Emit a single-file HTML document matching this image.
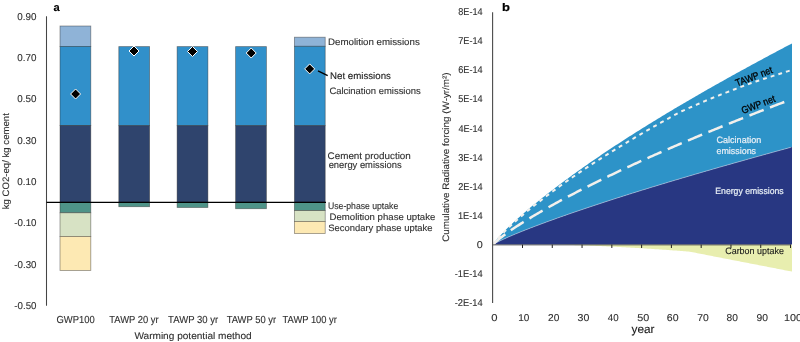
<!DOCTYPE html>
<html><head><meta charset="utf-8"><style>
html,body{margin:0;padding:0;background:#fff;overflow:hidden;}
svg{display:block;font-family:"Liberation Sans", sans-serif;will-change:transform;}
text{text-rendering:geometricPrecision;stroke:currentColor;}
</style></head><body>
<svg width="800" height="342" viewBox="0 0 800 342">
<line x1="46.5" y1="16.2" x2="46.5" y2="305.8" stroke="#454545" stroke-width="1.05"/>
<rect x="60.00" y="26.00" width="30.8" height="20.40" fill="#8FB3D7" stroke="#2a2a2a" stroke-opacity="0.5" stroke-width="0.8"/>
<rect x="60.00" y="46.40" width="30.8" height="79.20" fill="#3190CA" stroke="#2a2a2a" stroke-opacity="0.5" stroke-width="0.8"/>
<rect x="60.00" y="125.60" width="30.8" height="76.70" fill="#2F446D" stroke="#2a2a2a" stroke-opacity="0.5" stroke-width="0.8"/>
<rect x="60.00" y="202.30" width="30.8" height="10.50" fill="#4E9388" stroke="#2a2a2a" stroke-opacity="0.5" stroke-width="0.8"/>
<rect x="60.00" y="212.80" width="30.8" height="23.60" fill="#D7E2C4" stroke="#2a2a2a" stroke-opacity="0.5" stroke-width="0.8"/>
<rect x="60.00" y="236.40" width="30.8" height="34.10" fill="#FDE9B3" stroke="#2a2a2a" stroke-opacity="0.5" stroke-width="0.8"/>
<rect x="118.80" y="46.60" width="30.8" height="79.10" fill="#3190CA" stroke="#2a2a2a" stroke-opacity="0.5" stroke-width="0.8"/>
<rect x="118.80" y="125.70" width="30.8" height="76.60" fill="#2F446D" stroke="#2a2a2a" stroke-opacity="0.5" stroke-width="0.8"/>
<rect x="118.80" y="202.30" width="30.8" height="4.40" fill="#4E9388" stroke="#2a2a2a" stroke-opacity="0.5" stroke-width="0.8"/>
<rect x="177.10" y="46.60" width="30.8" height="79.10" fill="#3190CA" stroke="#2a2a2a" stroke-opacity="0.5" stroke-width="0.8"/>
<rect x="177.10" y="125.70" width="30.8" height="76.60" fill="#2F446D" stroke="#2a2a2a" stroke-opacity="0.5" stroke-width="0.8"/>
<rect x="177.10" y="202.30" width="30.8" height="5.20" fill="#4E9388" stroke="#2a2a2a" stroke-opacity="0.5" stroke-width="0.8"/>
<rect x="235.60" y="46.60" width="30.8" height="79.10" fill="#3190CA" stroke="#2a2a2a" stroke-opacity="0.5" stroke-width="0.8"/>
<rect x="235.60" y="125.70" width="30.8" height="76.60" fill="#2F446D" stroke="#2a2a2a" stroke-opacity="0.5" stroke-width="0.8"/>
<rect x="235.60" y="202.30" width="30.8" height="6.40" fill="#4E9388" stroke="#2a2a2a" stroke-opacity="0.5" stroke-width="0.8"/>
<rect x="294.40" y="37.20" width="30.8" height="9.10" fill="#8FB3D7" stroke="#2a2a2a" stroke-opacity="0.5" stroke-width="0.8"/>
<rect x="294.40" y="46.30" width="30.8" height="79.40" fill="#3190CA" stroke="#2a2a2a" stroke-opacity="0.5" stroke-width="0.8"/>
<rect x="294.40" y="125.70" width="30.8" height="76.60" fill="#2F446D" stroke="#2a2a2a" stroke-opacity="0.5" stroke-width="0.8"/>
<rect x="294.40" y="202.30" width="30.8" height="8.30" fill="#4E9388" stroke="#2a2a2a" stroke-opacity="0.5" stroke-width="0.8"/>
<rect x="294.40" y="210.60" width="30.8" height="10.80" fill="#D7E2C4" stroke="#2a2a2a" stroke-opacity="0.5" stroke-width="0.8"/>
<rect x="294.40" y="221.40" width="30.8" height="12.20" fill="#FDE9B3" stroke="#2a2a2a" stroke-opacity="0.5" stroke-width="0.8"/>
<line x1="46.5" y1="202.4" x2="326" y2="202.4" stroke="#000" stroke-width="1.1"/>
<path d="M75.6,89.0 L80.6,94.0 L75.6,99.0 L70.6,94.0 Z" fill="#000" stroke="#fff" stroke-width="1.0"/>
<path d="M134.0,46.0 L139.0,51.0 L134.0,56.0 L129.0,51.0 Z" fill="#000" stroke="#fff" stroke-width="1.0"/>
<path d="M192.5,46.5 L197.5,51.5 L192.5,56.5 L187.5,51.5 Z" fill="#000" stroke="#fff" stroke-width="1.0"/>
<path d="M251.2,48.0 L256.2,53.0 L251.2,58.0 L246.2,53.0 Z" fill="#000" stroke="#fff" stroke-width="1.0"/>
<path d="M309.7,63.900000000000006 L314.7,68.9 L309.7,73.9 L304.7,68.9 Z" fill="#000" stroke="#fff" stroke-width="1.0"/>
<line x1="318.0" y1="70.8" x2="327.7" y2="75.6" stroke="#000" stroke-width="1.4"/>
<path d="M492.72,244.60 L494.22,244.60 L495.73,244.60 L497.23,244.60 L498.74,244.60 L500.24,244.60 L501.74,244.60 L503.25,244.60 L504.75,244.60 L506.26,244.60 L507.76,244.60 L509.26,244.60 L510.77,244.60 L512.27,244.60 L513.78,244.60 L515.28,244.60 L516.78,244.60 L518.29,244.60 L519.79,244.60 L521.30,244.60 L522.80,244.60 L524.30,244.60 L525.81,244.60 L527.31,244.60 L528.82,244.60 L530.32,244.60 L531.83,244.60 L533.33,244.60 L534.83,244.60 L536.34,244.60 L537.84,244.60 L539.35,244.60 L540.85,244.60 L542.35,244.60 L543.86,244.60 L545.36,244.60 L546.87,244.60 L548.37,244.61 L549.87,244.62 L551.38,244.63 L552.88,244.65 L554.39,244.67 L555.89,244.69 L557.39,244.72 L558.90,244.74 L560.40,244.77 L561.91,244.80 L563.41,244.83 L564.91,244.87 L566.42,244.90 L567.92,244.94 L569.43,244.98 L570.93,245.02 L572.43,245.06 L573.94,245.10 L575.44,245.15 L576.95,245.19 L578.45,245.24 L579.95,245.29 L581.46,245.34 L582.96,245.39 L584.47,245.45 L585.97,245.50 L587.47,245.55 L588.98,245.61 L590.48,245.67 L591.99,245.73 L593.49,245.79 L594.99,245.85 L596.50,245.91 L598.00,245.97 L599.51,246.04 L601.01,246.10 L602.51,246.17 L604.02,246.24 L605.52,246.31 L607.03,246.38 L608.53,246.45 L610.04,246.52 L611.54,246.59 L613.04,246.67 L614.55,246.74 L616.05,246.82 L617.56,246.90 L619.06,246.97 L620.56,247.05 L622.07,247.13 L623.57,247.21 L625.08,247.30 L626.58,247.38 L628.08,247.46 L629.59,247.55 L631.09,247.63 L632.60,247.72 L634.10,247.81 L635.60,247.90 L637.11,247.99 L638.61,248.08 L640.12,248.17 L641.62,248.26 L643.12,248.35 L644.63,248.45 L646.13,248.54 L647.64,248.64 L649.14,248.73 L650.64,248.83 L652.15,248.93 L653.65,249.03 L655.16,249.13 L656.66,249.23 L658.16,249.33 L659.67,249.43 L661.17,249.53 L662.68,249.64 L664.18,249.74 L665.68,249.85 L667.19,249.95 L668.69,250.06 L670.20,250.17 L671.70,250.28 L673.20,250.38 L674.71,250.49 L676.21,250.61 L677.72,250.72 L679.22,250.83 L680.73,250.94 L682.23,251.06 L683.73,251.17 L685.24,251.29 L686.74,251.40 L688.25,251.52 L689.75,251.69 L691.25,251.99 L692.76,252.28 L694.26,252.57 L695.77,252.86 L697.27,253.16 L698.77,253.45 L700.28,253.74 L701.78,254.03 L703.29,254.33 L704.79,254.62 L706.29,254.91 L707.80,255.21 L709.30,255.50 L710.81,255.79 L712.31,256.08 L713.81,256.38 L715.32,256.67 L716.82,256.96 L718.33,257.25 L719.83,257.55 L721.33,257.84 L722.84,258.13 L724.34,258.42 L725.85,258.72 L727.35,259.01 L728.85,259.30 L730.36,259.59 L731.86,259.89 L733.37,260.18 L734.87,260.47 L736.37,260.77 L737.88,261.06 L739.38,261.35 L740.89,261.64 L742.39,261.94 L743.89,262.23 L745.40,262.52 L746.90,262.81 L748.41,263.11 L749.91,263.40 L751.41,263.69 L752.92,263.98 L754.42,264.28 L755.93,264.57 L757.43,264.86 L758.94,265.15 L760.44,265.45 L761.94,265.74 L763.45,266.03 L764.95,266.33 L766.46,266.62 L767.96,266.91 L769.46,267.20 L770.97,267.50 L772.47,267.79 L773.98,268.08 L775.48,268.37 L776.98,268.67 L778.49,268.96 L779.99,269.25 L781.50,269.54 L783.00,269.84 L784.50,270.13 L786.01,270.42 L787.51,270.71 L789.02,271.01 L790.52,271.30 L792.00,271.59 L792.00,244.60 L790.52,244.60 L789.02,244.60 L787.51,244.60 L786.01,244.60 L784.50,244.60 L783.00,244.60 L781.50,244.60 L779.99,244.60 L778.49,244.60 L776.98,244.60 L775.48,244.60 L773.98,244.60 L772.47,244.60 L770.97,244.60 L769.46,244.60 L767.96,244.60 L766.46,244.60 L764.95,244.60 L763.45,244.60 L761.94,244.60 L760.44,244.60 L758.94,244.60 L757.43,244.60 L755.93,244.60 L754.42,244.60 L752.92,244.60 L751.41,244.60 L749.91,244.60 L748.41,244.60 L746.90,244.60 L745.40,244.60 L743.89,244.60 L742.39,244.60 L740.89,244.60 L739.38,244.60 L737.88,244.60 L736.37,244.60 L734.87,244.60 L733.37,244.60 L731.86,244.60 L730.36,244.60 L728.85,244.60 L727.35,244.60 L725.85,244.60 L724.34,244.60 L722.84,244.60 L721.33,244.60 L719.83,244.60 L718.33,244.60 L716.82,244.60 L715.32,244.60 L713.81,244.60 L712.31,244.60 L710.81,244.60 L709.30,244.60 L707.80,244.60 L706.29,244.60 L704.79,244.60 L703.29,244.60 L701.78,244.60 L700.28,244.60 L698.77,244.60 L697.27,244.60 L695.77,244.60 L694.26,244.60 L692.76,244.60 L691.25,244.60 L689.75,244.60 L688.25,244.60 L686.74,244.60 L685.24,244.60 L683.73,244.60 L682.23,244.60 L680.73,244.60 L679.22,244.60 L677.72,244.60 L676.21,244.60 L674.71,244.60 L673.20,244.60 L671.70,244.60 L670.20,244.60 L668.69,244.60 L667.19,244.60 L665.68,244.60 L664.18,244.60 L662.68,244.60 L661.17,244.60 L659.67,244.60 L658.16,244.60 L656.66,244.60 L655.16,244.60 L653.65,244.60 L652.15,244.60 L650.64,244.60 L649.14,244.60 L647.64,244.60 L646.13,244.60 L644.63,244.60 L643.12,244.60 L641.62,244.60 L640.12,244.60 L638.61,244.60 L637.11,244.60 L635.60,244.60 L634.10,244.60 L632.60,244.60 L631.09,244.60 L629.59,244.60 L628.08,244.60 L626.58,244.60 L625.08,244.60 L623.57,244.60 L622.07,244.60 L620.56,244.60 L619.06,244.60 L617.56,244.60 L616.05,244.60 L614.55,244.60 L613.04,244.60 L611.54,244.60 L610.04,244.60 L608.53,244.60 L607.03,244.60 L605.52,244.60 L604.02,244.60 L602.51,244.60 L601.01,244.60 L599.51,244.60 L598.00,244.60 L596.50,244.60 L594.99,244.60 L593.49,244.60 L591.99,244.60 L590.48,244.60 L588.98,244.60 L587.47,244.60 L585.97,244.60 L584.47,244.60 L582.96,244.60 L581.46,244.60 L579.95,244.60 L578.45,244.60 L576.95,244.60 L575.44,244.60 L573.94,244.60 L572.43,244.60 L570.93,244.60 L569.43,244.60 L567.92,244.60 L566.42,244.60 L564.91,244.60 L563.41,244.60 L561.91,244.60 L560.40,244.60 L558.90,244.60 L557.39,244.60 L555.89,244.60 L554.39,244.60 L552.88,244.60 L551.38,244.60 L549.87,244.60 L548.37,244.60 L546.87,244.60 L545.36,244.60 L543.86,244.60 L542.35,244.60 L540.85,244.60 L539.35,244.60 L537.84,244.60 L536.34,244.60 L534.83,244.60 L533.33,244.60 L531.83,244.60 L530.32,244.60 L528.82,244.60 L527.31,244.60 L525.81,244.60 L524.30,244.60 L522.80,244.60 L521.30,244.60 L519.79,244.60 L518.29,244.60 L516.78,244.60 L515.28,244.60 L513.78,244.60 L512.27,244.60 L510.77,244.60 L509.26,244.60 L507.76,244.60 L506.26,244.60 L504.75,244.60 L503.25,244.60 L501.74,244.60 L500.24,244.60 L498.74,244.60 L497.23,244.60 L495.73,244.60 L494.22,244.60 L492.72,244.60 Z" fill="#E8EEAF"/>
<path d="M492.72,244.60 L494.22,242.70 L495.73,240.87 L497.23,239.09 L498.74,237.36 L500.24,235.68 L501.74,234.05 L503.25,232.45 L504.75,230.89 L506.26,229.36 L507.76,227.85 L509.26,226.38 L510.77,224.93 L512.27,223.50 L513.78,222.09 L515.28,220.70 L516.78,219.33 L518.29,217.97 L519.79,216.63 L521.30,215.31 L522.80,213.99 L524.30,212.69 L525.81,211.40 L527.31,210.12 L528.82,208.85 L530.32,207.59 L531.83,206.34 L533.33,205.10 L534.83,203.87 L536.34,202.65 L537.84,201.43 L539.35,200.22 L540.85,199.02 L542.35,197.82 L543.86,196.63 L545.36,195.45 L546.87,194.27 L548.37,193.10 L549.87,191.94 L551.38,190.78 L552.88,189.63 L554.39,188.48 L555.89,187.34 L557.39,186.20 L558.90,185.07 L560.40,183.94 L561.91,182.82 L563.41,181.70 L564.91,180.59 L566.42,179.48 L567.92,178.38 L569.43,177.28 L570.93,176.18 L572.43,175.09 L573.94,174.01 L575.44,172.92 L576.95,171.85 L578.45,170.77 L579.95,169.70 L581.46,168.64 L582.96,167.58 L584.47,166.52 L585.97,165.46 L587.47,164.41 L588.98,163.37 L590.48,162.32 L591.99,161.28 L593.49,160.25 L594.99,159.22 L596.50,158.19 L598.00,157.16 L599.51,156.14 L601.01,155.12 L602.51,154.11 L604.02,153.10 L605.52,152.09 L607.03,151.08 L608.53,150.08 L610.04,149.08 L611.54,148.08 L613.04,147.09 L614.55,146.10 L616.05,145.11 L617.56,144.13 L619.06,143.15 L620.56,142.17 L622.07,141.19 L623.57,140.22 L625.08,139.25 L626.58,138.28 L628.08,137.32 L629.59,136.36 L631.09,135.40 L632.60,134.44 L634.10,133.49 L635.60,132.53 L637.11,131.58 L638.61,130.64 L640.12,129.69 L641.62,128.75 L643.12,127.81 L644.63,126.88 L646.13,125.94 L647.64,125.01 L649.14,124.08 L650.64,123.15 L652.15,122.23 L653.65,121.30 L655.16,120.38 L656.66,119.46 L658.16,118.55 L659.67,117.63 L661.17,116.72 L662.68,115.81 L664.18,114.90 L665.68,113.99 L667.19,113.09 L668.69,112.19 L670.20,111.29 L671.70,110.39 L673.20,109.49 L674.71,108.60 L676.21,107.71 L677.72,106.82 L679.22,105.93 L680.73,105.04 L682.23,104.15 L683.73,103.27 L685.24,102.39 L686.74,101.51 L688.25,100.63 L689.75,99.76 L691.25,98.88 L692.76,98.01 L694.26,97.14 L695.77,96.27 L697.27,95.40 L698.77,94.53 L700.28,93.67 L701.78,92.80 L703.29,91.94 L704.79,91.08 L706.29,90.22 L707.80,89.37 L709.30,88.51 L710.81,87.66 L712.31,86.81 L713.81,85.95 L715.32,85.10 L716.82,84.26 L718.33,83.41 L719.83,82.56 L721.33,81.72 L722.84,80.88 L724.34,80.04 L725.85,79.20 L727.35,78.36 L728.85,77.52 L730.36,76.68 L731.86,75.85 L733.37,75.02 L734.87,74.18 L736.37,73.35 L737.88,72.52 L739.38,71.70 L740.89,70.87 L742.39,70.04 L743.89,69.22 L745.40,68.39 L746.90,67.57 L748.41,66.75 L749.91,65.93 L751.41,65.11 L752.92,64.30 L754.42,63.48 L755.93,62.66 L757.43,61.85 L758.94,61.04 L760.44,60.22 L761.94,59.41 L763.45,58.60 L764.95,57.79 L766.46,56.99 L767.96,56.18 L769.46,55.37 L770.97,54.57 L772.47,53.77 L773.98,52.96 L775.48,52.16 L776.98,51.36 L778.49,50.56 L779.99,49.76 L781.50,48.97 L783.00,48.17 L784.50,47.37 L786.01,46.58 L787.51,45.78 L789.02,44.99 L790.52,44.20 L792.00,43.42 L792.00,147.00 L790.52,147.40 L789.02,147.81 L787.51,148.22 L786.01,148.63 L784.50,149.05 L783.00,149.46 L781.50,149.87 L779.99,150.28 L778.49,150.70 L776.98,151.11 L775.48,151.52 L773.98,151.94 L772.47,152.35 L770.97,152.77 L769.46,153.18 L767.96,153.60 L766.46,154.02 L764.95,154.43 L763.45,154.85 L761.94,155.27 L760.44,155.68 L758.94,156.10 L757.43,156.52 L755.93,156.94 L754.42,157.36 L752.92,157.78 L751.41,158.20 L749.91,158.62 L748.41,159.04 L746.90,159.46 L745.40,159.88 L743.89,160.31 L742.39,160.73 L740.89,161.15 L739.38,161.57 L737.88,162.00 L736.37,162.42 L734.87,162.85 L733.37,163.27 L731.86,163.70 L730.36,164.13 L728.85,164.55 L727.35,164.98 L725.85,165.41 L724.34,165.84 L722.84,166.26 L721.33,166.69 L719.83,167.12 L718.33,167.55 L716.82,167.98 L715.32,168.42 L713.81,168.85 L712.31,169.28 L710.81,169.71 L709.30,170.15 L707.80,170.58 L706.29,171.02 L704.79,171.45 L703.29,171.89 L701.78,172.32 L700.28,172.76 L698.77,173.20 L697.27,173.63 L695.77,174.07 L694.26,174.51 L692.76,174.95 L691.25,175.39 L689.75,175.83 L688.25,176.27 L686.74,176.72 L685.24,177.16 L683.73,177.60 L682.23,178.05 L680.73,178.49 L679.22,178.94 L677.72,179.38 L676.21,179.83 L674.71,180.28 L673.20,180.72 L671.70,181.17 L670.20,181.62 L668.69,182.07 L667.19,182.52 L665.68,182.98 L664.18,183.43 L662.68,183.88 L661.17,184.34 L659.67,184.79 L658.16,185.25 L656.66,185.70 L655.16,186.16 L653.65,186.62 L652.15,187.07 L650.64,187.53 L649.14,187.99 L647.64,188.46 L646.13,188.92 L644.63,189.38 L643.12,189.84 L641.62,190.31 L640.12,190.77 L638.61,191.24 L637.11,191.71 L635.60,192.17 L634.10,192.64 L632.60,193.11 L631.09,193.58 L629.59,194.06 L628.08,194.53 L626.58,195.00 L625.08,195.48 L623.57,195.95 L622.07,196.43 L620.56,196.91 L619.06,197.39 L617.56,197.86 L616.05,198.35 L614.55,198.83 L613.04,199.31 L611.54,199.79 L610.04,200.28 L608.53,200.77 L607.03,201.25 L605.52,201.74 L604.02,202.23 L602.51,202.72 L601.01,203.21 L599.51,203.71 L598.00,204.20 L596.50,204.70 L594.99,205.19 L593.49,205.69 L591.99,206.19 L590.48,206.69 L588.98,207.20 L587.47,207.70 L585.97,208.20 L584.47,208.71 L582.96,209.22 L581.46,209.73 L579.95,210.24 L578.45,210.75 L576.95,211.26 L575.44,211.78 L573.94,212.29 L572.43,212.81 L570.93,213.33 L569.43,213.85 L567.92,214.37 L566.42,214.90 L564.91,215.42 L563.41,215.95 L561.91,216.48 L560.40,217.01 L558.90,217.54 L557.39,218.08 L555.89,218.61 L554.39,219.15 L552.88,219.69 L551.38,220.24 L549.87,220.78 L548.37,221.33 L546.87,221.87 L545.36,222.43 L543.86,222.98 L542.35,223.53 L540.85,224.09 L539.35,224.65 L537.84,225.21 L536.34,225.78 L534.83,226.35 L533.33,226.92 L531.83,227.49 L530.32,228.07 L528.82,228.65 L527.31,229.24 L525.81,229.82 L524.30,230.41 L522.80,231.01 L521.30,231.61 L519.79,232.22 L518.29,232.83 L516.78,233.44 L515.28,234.07 L513.78,234.69 L512.27,235.33 L510.77,235.97 L509.26,236.62 L507.76,237.28 L506.26,237.95 L504.75,238.63 L503.25,239.32 L501.74,240.02 L500.24,240.74 L498.74,241.48 L497.23,242.23 L495.73,243.00 L494.22,243.79 L492.72,244.60 Z" fill="#2D93C8"/>
<path d="M492.72,244.60 L494.22,243.79 L495.73,243.00 L497.23,242.23 L498.74,241.48 L500.24,240.74 L501.74,240.02 L503.25,239.32 L504.75,238.63 L506.26,237.95 L507.76,237.28 L509.26,236.62 L510.77,235.97 L512.27,235.33 L513.78,234.69 L515.28,234.07 L516.78,233.44 L518.29,232.83 L519.79,232.22 L521.30,231.61 L522.80,231.01 L524.30,230.41 L525.81,229.82 L527.31,229.24 L528.82,228.65 L530.32,228.07 L531.83,227.49 L533.33,226.92 L534.83,226.35 L536.34,225.78 L537.84,225.21 L539.35,224.65 L540.85,224.09 L542.35,223.53 L543.86,222.98 L545.36,222.43 L546.87,221.87 L548.37,221.33 L549.87,220.78 L551.38,220.24 L552.88,219.69 L554.39,219.15 L555.89,218.61 L557.39,218.08 L558.90,217.54 L560.40,217.01 L561.91,216.48 L563.41,215.95 L564.91,215.42 L566.42,214.90 L567.92,214.37 L569.43,213.85 L570.93,213.33 L572.43,212.81 L573.94,212.29 L575.44,211.78 L576.95,211.26 L578.45,210.75 L579.95,210.24 L581.46,209.73 L582.96,209.22 L584.47,208.71 L585.97,208.20 L587.47,207.70 L588.98,207.20 L590.48,206.69 L591.99,206.19 L593.49,205.69 L594.99,205.19 L596.50,204.70 L598.00,204.20 L599.51,203.71 L601.01,203.21 L602.51,202.72 L604.02,202.23 L605.52,201.74 L607.03,201.25 L608.53,200.77 L610.04,200.28 L611.54,199.79 L613.04,199.31 L614.55,198.83 L616.05,198.35 L617.56,197.86 L619.06,197.39 L620.56,196.91 L622.07,196.43 L623.57,195.95 L625.08,195.48 L626.58,195.00 L628.08,194.53 L629.59,194.06 L631.09,193.58 L632.60,193.11 L634.10,192.64 L635.60,192.17 L637.11,191.71 L638.61,191.24 L640.12,190.77 L641.62,190.31 L643.12,189.84 L644.63,189.38 L646.13,188.92 L647.64,188.46 L649.14,187.99 L650.64,187.53 L652.15,187.07 L653.65,186.62 L655.16,186.16 L656.66,185.70 L658.16,185.25 L659.67,184.79 L661.17,184.34 L662.68,183.88 L664.18,183.43 L665.68,182.98 L667.19,182.52 L668.69,182.07 L670.20,181.62 L671.70,181.17 L673.20,180.72 L674.71,180.28 L676.21,179.83 L677.72,179.38 L679.22,178.94 L680.73,178.49 L682.23,178.05 L683.73,177.60 L685.24,177.16 L686.74,176.72 L688.25,176.27 L689.75,175.83 L691.25,175.39 L692.76,174.95 L694.26,174.51 L695.77,174.07 L697.27,173.63 L698.77,173.20 L700.28,172.76 L701.78,172.32 L703.29,171.89 L704.79,171.45 L706.29,171.02 L707.80,170.58 L709.30,170.15 L710.81,169.71 L712.31,169.28 L713.81,168.85 L715.32,168.42 L716.82,167.98 L718.33,167.55 L719.83,167.12 L721.33,166.69 L722.84,166.26 L724.34,165.84 L725.85,165.41 L727.35,164.98 L728.85,164.55 L730.36,164.13 L731.86,163.70 L733.37,163.27 L734.87,162.85 L736.37,162.42 L737.88,162.00 L739.38,161.57 L740.89,161.15 L742.39,160.73 L743.89,160.31 L745.40,159.88 L746.90,159.46 L748.41,159.04 L749.91,158.62 L751.41,158.20 L752.92,157.78 L754.42,157.36 L755.93,156.94 L757.43,156.52 L758.94,156.10 L760.44,155.68 L761.94,155.27 L763.45,154.85 L764.95,154.43 L766.46,154.02 L767.96,153.60 L769.46,153.18 L770.97,152.77 L772.47,152.35 L773.98,151.94 L775.48,151.52 L776.98,151.11 L778.49,150.70 L779.99,150.28 L781.50,149.87 L783.00,149.46 L784.50,149.05 L786.01,148.63 L787.51,148.22 L789.02,147.81 L790.52,147.40 L792.00,147.00 L792.00,244.60 L790.52,244.60 L789.02,244.60 L787.51,244.60 L786.01,244.60 L784.50,244.60 L783.00,244.60 L781.50,244.60 L779.99,244.60 L778.49,244.60 L776.98,244.60 L775.48,244.60 L773.98,244.60 L772.47,244.60 L770.97,244.60 L769.46,244.60 L767.96,244.60 L766.46,244.60 L764.95,244.60 L763.45,244.60 L761.94,244.60 L760.44,244.60 L758.94,244.60 L757.43,244.60 L755.93,244.60 L754.42,244.60 L752.92,244.60 L751.41,244.60 L749.91,244.60 L748.41,244.60 L746.90,244.60 L745.40,244.60 L743.89,244.60 L742.39,244.60 L740.89,244.60 L739.38,244.60 L737.88,244.60 L736.37,244.60 L734.87,244.60 L733.37,244.60 L731.86,244.60 L730.36,244.60 L728.85,244.60 L727.35,244.60 L725.85,244.60 L724.34,244.60 L722.84,244.60 L721.33,244.60 L719.83,244.60 L718.33,244.60 L716.82,244.60 L715.32,244.60 L713.81,244.60 L712.31,244.60 L710.81,244.60 L709.30,244.60 L707.80,244.60 L706.29,244.60 L704.79,244.60 L703.29,244.60 L701.78,244.60 L700.28,244.60 L698.77,244.60 L697.27,244.60 L695.77,244.60 L694.26,244.60 L692.76,244.60 L691.25,244.60 L689.75,244.60 L688.25,244.60 L686.74,244.60 L685.24,244.60 L683.73,244.60 L682.23,244.60 L680.73,244.60 L679.22,244.60 L677.72,244.60 L676.21,244.60 L674.71,244.60 L673.20,244.60 L671.70,244.60 L670.20,244.60 L668.69,244.60 L667.19,244.60 L665.68,244.60 L664.18,244.60 L662.68,244.60 L661.17,244.60 L659.67,244.60 L658.16,244.60 L656.66,244.60 L655.16,244.60 L653.65,244.60 L652.15,244.60 L650.64,244.60 L649.14,244.60 L647.64,244.60 L646.13,244.60 L644.63,244.60 L643.12,244.60 L641.62,244.60 L640.12,244.60 L638.61,244.60 L637.11,244.60 L635.60,244.60 L634.10,244.60 L632.60,244.60 L631.09,244.60 L629.59,244.60 L628.08,244.60 L626.58,244.60 L625.08,244.60 L623.57,244.60 L622.07,244.60 L620.56,244.60 L619.06,244.60 L617.56,244.60 L616.05,244.60 L614.55,244.60 L613.04,244.60 L611.54,244.60 L610.04,244.60 L608.53,244.60 L607.03,244.60 L605.52,244.60 L604.02,244.60 L602.51,244.60 L601.01,244.60 L599.51,244.60 L598.00,244.60 L596.50,244.60 L594.99,244.60 L593.49,244.60 L591.99,244.60 L590.48,244.60 L588.98,244.60 L587.47,244.60 L585.97,244.60 L584.47,244.60 L582.96,244.60 L581.46,244.60 L579.95,244.60 L578.45,244.60 L576.95,244.60 L575.44,244.60 L573.94,244.60 L572.43,244.60 L570.93,244.60 L569.43,244.60 L567.92,244.60 L566.42,244.60 L564.91,244.60 L563.41,244.60 L561.91,244.60 L560.40,244.60 L558.90,244.60 L557.39,244.60 L555.89,244.60 L554.39,244.60 L552.88,244.60 L551.38,244.60 L549.87,244.60 L548.37,244.60 L546.87,244.60 L545.36,244.60 L543.86,244.60 L542.35,244.60 L540.85,244.60 L539.35,244.60 L537.84,244.60 L536.34,244.60 L534.83,244.60 L533.33,244.60 L531.83,244.60 L530.32,244.60 L528.82,244.60 L527.31,244.60 L525.81,244.60 L524.30,244.60 L522.80,244.60 L521.30,244.60 L519.79,244.60 L518.29,244.60 L516.78,244.60 L515.28,244.60 L513.78,244.60 L512.27,244.60 L510.77,244.60 L509.26,244.60 L507.76,244.60 L506.26,244.60 L504.75,244.60 L503.25,244.60 L501.74,244.60 L500.24,244.60 L498.74,244.60 L497.23,244.60 L495.73,244.60 L494.22,244.60 L492.72,244.60 Z" fill="#283782"/>
<path d="M492.72,244.60 L494.22,243.79 L495.73,243.00 L497.23,242.23 L498.74,241.48 L500.24,240.74 L501.74,240.02 L503.25,239.32 L504.75,238.63 L506.26,237.95 L507.76,237.28 L509.26,236.62 L510.77,235.97 L512.27,235.33 L513.78,234.69 L515.28,234.07 L516.78,233.44 L518.29,232.83 L519.79,232.22 L521.30,231.61 L522.80,231.01 L524.30,230.41 L525.81,229.82 L527.31,229.24 L528.82,228.65 L530.32,228.07 L531.83,227.49 L533.33,226.92 L534.83,226.35 L536.34,225.78 L537.84,225.21 L539.35,224.65 L540.85,224.09 L542.35,223.53 L543.86,222.98 L545.36,222.43 L546.87,221.87 L548.37,221.33 L549.87,220.78 L551.38,220.24 L552.88,219.69 L554.39,219.15 L555.89,218.61 L557.39,218.08 L558.90,217.54 L560.40,217.01 L561.91,216.48 L563.41,215.95 L564.91,215.42 L566.42,214.90 L567.92,214.37 L569.43,213.85 L570.93,213.33 L572.43,212.81 L573.94,212.29 L575.44,211.78 L576.95,211.26 L578.45,210.75 L579.95,210.24 L581.46,209.73 L582.96,209.22 L584.47,208.71 L585.97,208.20 L587.47,207.70 L588.98,207.20 L590.48,206.69 L591.99,206.19 L593.49,205.69 L594.99,205.19 L596.50,204.70 L598.00,204.20 L599.51,203.71 L601.01,203.21 L602.51,202.72 L604.02,202.23 L605.52,201.74 L607.03,201.25 L608.53,200.77 L610.04,200.28 L611.54,199.79 L613.04,199.31 L614.55,198.83 L616.05,198.35 L617.56,197.86 L619.06,197.39 L620.56,196.91 L622.07,196.43 L623.57,195.95 L625.08,195.48 L626.58,195.00 L628.08,194.53 L629.59,194.06 L631.09,193.58 L632.60,193.11 L634.10,192.64 L635.60,192.17 L637.11,191.71 L638.61,191.24 L640.12,190.77 L641.62,190.31 L643.12,189.84 L644.63,189.38 L646.13,188.92 L647.64,188.46 L649.14,187.99 L650.64,187.53 L652.15,187.07 L653.65,186.62 L655.16,186.16 L656.66,185.70 L658.16,185.25 L659.67,184.79 L661.17,184.34 L662.68,183.88 L664.18,183.43 L665.68,182.98 L667.19,182.52 L668.69,182.07 L670.20,181.62 L671.70,181.17 L673.20,180.72 L674.71,180.28 L676.21,179.83 L677.72,179.38 L679.22,178.94 L680.73,178.49 L682.23,178.05 L683.73,177.60 L685.24,177.16 L686.74,176.72 L688.25,176.27 L689.75,175.83 L691.25,175.39 L692.76,174.95 L694.26,174.51 L695.77,174.07 L697.27,173.63 L698.77,173.20 L700.28,172.76 L701.78,172.32 L703.29,171.89 L704.79,171.45 L706.29,171.02 L707.80,170.58 L709.30,170.15 L710.81,169.71 L712.31,169.28 L713.81,168.85 L715.32,168.42 L716.82,167.98 L718.33,167.55 L719.83,167.12 L721.33,166.69 L722.84,166.26 L724.34,165.84 L725.85,165.41 L727.35,164.98 L728.85,164.55 L730.36,164.13 L731.86,163.70 L733.37,163.27 L734.87,162.85 L736.37,162.42 L737.88,162.00 L739.38,161.57 L740.89,161.15 L742.39,160.73 L743.89,160.31 L745.40,159.88 L746.90,159.46 L748.41,159.04 L749.91,158.62 L751.41,158.20 L752.92,157.78 L754.42,157.36 L755.93,156.94 L757.43,156.52 L758.94,156.10 L760.44,155.68 L761.94,155.27 L763.45,154.85 L764.95,154.43 L766.46,154.02 L767.96,153.60 L769.46,153.18 L770.97,152.77 L772.47,152.35 L773.98,151.94 L775.48,151.52 L776.98,151.11 L778.49,150.70 L779.99,150.28 L781.50,149.87 L783.00,149.46 L784.50,149.05 L786.01,148.63 L787.51,148.22 L789.02,147.81 L790.52,147.40" fill="none" stroke="#b8d4ea" stroke-width="0.6"/>
<path d="M492.72,244.60 L494.22,242.76 L495.73,240.99 L497.23,239.27 L498.74,237.60 L500.24,235.99 L501.74,234.41 L503.25,232.87 L504.75,231.37 L506.26,229.90 L507.76,228.46 L509.26,227.01 L510.77,225.59 L512.27,224.19 L513.78,222.81 L515.28,221.45 L516.78,220.10 L518.29,218.78 L519.79,217.47 L521.30,216.17 L522.80,214.88 L524.30,213.61 L525.81,212.35 L527.31,211.10 L528.82,209.86 L530.32,208.64 L531.83,207.43 L533.33,206.23 L534.83,205.04 L536.34,203.85 L537.84,202.67 L539.35,201.50 L540.85,200.34 L542.35,199.18 L543.86,198.03 L545.36,196.89 L546.87,195.75 L548.37,194.62 L549.87,193.49 L551.38,192.37 L552.88,191.26 L554.39,190.15 L555.89,189.05 L557.39,187.95 L558.90,186.85 L560.40,185.77 L561.91,184.68 L563.41,183.60 L564.91,182.53 L566.42,181.46 L567.92,180.40 L569.43,179.36 L570.93,178.32 L572.43,177.28 L573.94,176.25 L575.44,175.23 L576.95,174.20 L578.45,173.19 L579.95,172.17 L581.46,171.16 L582.96,170.15 L584.47,169.15 L585.97,168.15 L587.47,167.16 L588.98,166.17 L590.48,165.18 L591.99,164.19 L593.49,163.21 L594.99,162.24 L596.50,161.26 L598.00,160.29 L599.51,159.33 L601.01,158.37 L602.51,157.41 L604.02,156.46 L605.52,155.52 L607.03,154.58 L608.53,153.64 L610.04,152.70 L611.54,151.76 L613.04,150.83 L614.55,149.91 L616.05,148.98 L617.56,148.06 L619.06,147.14 L620.56,146.22 L622.07,145.31 L623.57,144.40 L625.08,143.49 L626.58,142.59 L628.08,141.69 L629.59,140.79 L631.09,139.89 L632.60,138.99 L634.10,138.10 L635.60,137.21 L637.11,136.33 L638.61,135.44 L640.12,134.56 L641.62,133.68 L643.12,132.80 L644.63,131.93 L646.13,131.06 L647.64,130.19 L649.14,129.32 L650.64,128.46 L652.15,127.60 L653.65,126.74 L655.16,125.88 L656.66,125.03 L658.16,124.18 L659.67,123.33 L661.17,122.48 L662.68,121.64 L664.18,120.80 L665.68,119.96 L667.19,119.12 L668.69,118.28 L670.20,117.45 L671.70,116.61 L673.20,115.78 L674.71,114.95 L676.21,114.13 L677.72,113.30 L679.22,112.48 L680.73,111.70 L682.23,111.02 L683.73,110.35 L685.24,109.68 L686.74,109.01 L688.25,108.35 L689.75,107.68 L691.25,107.02 L692.76,106.36 L694.26,105.70 L695.77,105.04 L697.27,104.39 L698.77,103.73 L700.28,103.08 L701.78,102.43 L703.29,101.78 L704.79,101.13 L706.29,100.49 L707.80,99.84 L709.30,99.20 L710.81,98.58 L712.31,97.98 L713.81,97.38 L715.32,96.79 L716.82,96.20 L718.33,95.61 L719.83,95.02 L721.33,94.43 L722.84,93.85 L724.34,93.26 L725.85,92.68 L727.35,92.09 L728.85,91.51 L730.36,90.93 L731.86,90.36 L733.37,89.78 L734.87,89.20 L736.37,88.63 L737.88,88.06 L739.38,87.48 L740.89,86.91 L742.39,86.34 L743.89,85.77 L745.40,85.21 L746.90,84.64 L748.41,84.08 L749.91,83.51 L751.41,83.01 L752.92,82.51 L754.42,82.01 L755.93,81.52 L757.43,81.02 L758.94,80.53 L760.44,80.04 L761.94,79.55 L763.45,79.05 L764.95,78.57 L766.46,78.08 L767.96,77.59 L769.46,77.10 L770.97,76.62 L772.47,76.13 L773.98,75.65 L775.48,75.17 L776.98,74.69 L778.49,74.21 L779.99,73.73 L781.50,73.25 L783.00,72.77 L784.50,72.30 L786.01,71.82 L787.51,71.35 L789.02,70.87 L790.52,70.40" fill="none" stroke="#F2F0EC" stroke-width="2.0" stroke-dasharray="3.9 4.1" stroke-dashoffset="0.1"/>
<path d="M492.72,244.60 L494.22,243.23 L495.73,241.90 L497.23,240.61 L498.74,239.36 L500.24,238.15 L501.74,236.96 L503.25,235.81 L504.75,234.68 L506.26,233.57 L507.76,232.48 L509.26,231.42 L510.77,230.37 L512.27,229.33 L513.78,228.31 L515.28,227.31 L516.78,226.31 L518.29,225.33 L519.79,224.36 L521.30,223.40 L522.80,222.45 L524.30,221.51 L525.81,220.58 L527.31,219.65 L528.82,218.74 L530.32,217.82 L531.83,216.92 L533.33,216.02 L534.83,215.13 L536.34,214.24 L537.84,213.36 L539.35,212.49 L540.85,211.62 L542.35,210.75 L543.86,209.89 L545.36,209.04 L546.87,208.19 L548.37,207.34 L549.87,206.50 L551.38,205.66 L552.88,204.82 L554.39,203.99 L555.89,203.17 L557.39,202.34 L558.90,201.52 L560.40,200.71 L561.91,199.90 L563.41,199.09 L564.91,198.28 L566.42,197.48 L567.92,196.68 L569.43,195.89 L570.93,195.10 L572.43,194.31 L573.94,193.52 L575.44,192.74 L576.95,191.96 L578.45,191.18 L579.95,190.41 L581.46,189.64 L582.96,188.87 L584.47,188.10 L585.97,187.34 L587.47,186.58 L588.98,185.82 L590.48,185.07 L591.99,184.32 L593.49,183.57 L594.99,182.82 L596.50,182.08 L598.00,181.33 L599.51,180.60 L601.01,179.86 L602.51,179.12 L604.02,178.39 L605.52,177.66 L607.03,176.93 L608.53,176.21 L610.04,175.49 L611.54,174.76 L613.04,174.05 L614.55,173.33 L616.05,172.62 L617.56,171.90 L619.06,171.19 L620.56,170.49 L622.07,169.78 L623.57,169.08 L625.08,168.37 L626.58,167.67 L628.08,166.98 L629.59,166.28 L631.09,165.59 L632.60,164.89 L634.10,164.20 L635.60,163.51 L637.11,162.83 L638.61,162.14 L640.12,161.46 L641.62,160.78 L643.12,160.10 L644.63,159.42 L646.13,158.74 L647.64,158.07 L649.14,157.40 L650.64,156.73 L652.15,156.06 L653.65,155.39 L655.16,154.72 L656.66,154.06 L658.16,153.39 L659.67,152.73 L661.17,152.07 L662.68,151.41 L664.18,150.76 L665.68,150.10 L667.19,149.45 L668.69,148.79 L670.20,148.14 L671.70,147.49 L673.20,146.84 L674.71,146.20 L676.21,145.55 L677.72,144.91 L679.22,144.26 L680.73,143.62 L682.23,142.98 L683.73,142.34 L685.24,141.70 L686.74,141.07 L688.25,140.43 L689.75,139.80 L691.25,139.16 L692.76,138.53 L694.26,137.90 L695.77,137.27 L697.27,136.65 L698.77,136.02 L700.28,135.39 L701.78,134.77 L703.29,134.14 L704.79,133.52 L706.29,132.90 L707.80,132.28 L709.30,131.66 L710.81,131.04 L712.31,130.43 L713.81,129.81 L715.32,129.20 L716.82,128.58 L718.33,127.97 L719.83,127.36 L721.33,126.75 L722.84,126.14 L724.34,125.53 L725.85,124.92 L727.35,124.31 L728.85,123.71 L730.36,123.10 L731.86,122.50 L733.37,121.90 L734.87,121.30 L736.37,120.69 L737.88,120.09 L739.38,119.49 L740.89,118.90 L742.39,118.30 L743.89,117.70 L745.40,117.11 L746.90,116.51 L748.41,115.92 L749.91,115.32 L751.41,114.73 L752.92,114.14 L754.42,113.55 L755.93,112.96 L757.43,112.37 L758.94,111.78 L760.44,111.19 L761.94,110.61 L763.45,110.02 L764.95,109.44 L766.46,108.85 L767.96,108.27 L769.46,107.69 L770.97,107.10 L772.47,106.52 L773.98,105.94 L775.48,105.36 L776.98,104.78 L778.49,104.20 L779.99,103.63 L781.50,103.05 L783.00,102.47 L784.50,101.90 L786.01,101.32 L787.51,100.75 L789.02,100.17 L790.52,99.60" fill="none" stroke="#F2F0EC" stroke-width="2.5" stroke-dasharray="15.3 6.8" stroke-dashoffset="21.1"/>
<line x1="492.6" y1="12.3" x2="492.6" y2="302.9" stroke="#4a4a4a" stroke-width="1.1"/>
<line x1="492.7" y1="244.9" x2="791" y2="244.9" stroke="#3a3a3a" stroke-width="0.8"/>
<line x1="522.50" y1="244.6" x2="522.50" y2="248" stroke="#222" stroke-width="1"/>
<line x1="552.28" y1="244.6" x2="552.28" y2="248" stroke="#222" stroke-width="1"/>
<line x1="582.06" y1="244.6" x2="582.06" y2="248" stroke="#222" stroke-width="1"/>
<line x1="611.84" y1="244.6" x2="611.84" y2="248" stroke="#222" stroke-width="1"/>
<line x1="641.62" y1="244.6" x2="641.62" y2="248" stroke="#222" stroke-width="1"/>
<line x1="671.40" y1="244.6" x2="671.40" y2="248" stroke="#222" stroke-width="1"/>
<line x1="701.18" y1="244.6" x2="701.18" y2="248" stroke="#222" stroke-width="1"/>
<line x1="730.96" y1="244.6" x2="730.96" y2="248" stroke="#222" stroke-width="1"/>
<line x1="760.74" y1="244.6" x2="760.74" y2="248" stroke="#222" stroke-width="1"/>
<line x1="790.52" y1="244.6" x2="790.52" y2="248" stroke="#222" stroke-width="1"/>
<text x="17.33" y="20.05" font-size="9.9" font-weight="normal" fill="#303030" color="#303030" stroke-width="0.12" textLength="19.13" lengthAdjust="spacingAndGlyphs">0.90</text>
<text x="17.33" y="60.85" font-size="9.9" font-weight="normal" fill="#303030" color="#303030" stroke-width="0.12" textLength="19.13" lengthAdjust="spacingAndGlyphs">0.70</text>
<text x="17.33" y="102.25" font-size="9.9" font-weight="normal" fill="#303030" color="#303030" stroke-width="0.12" textLength="19.13" lengthAdjust="spacingAndGlyphs">0.50</text>
<text x="17.33" y="143.65" font-size="9.9" font-weight="normal" fill="#303030" color="#303030" stroke-width="0.12" textLength="19.13" lengthAdjust="spacingAndGlyphs">0.30</text>
<text x="17.33" y="185.05" font-size="9.9" font-weight="normal" fill="#303030" color="#303030" stroke-width="0.12" textLength="19.13" lengthAdjust="spacingAndGlyphs">0.10</text>
<text x="14.33" y="226.45" font-size="9.9" font-weight="normal" fill="#303030" color="#303030" stroke-width="0.12" textLength="22.15" lengthAdjust="spacingAndGlyphs">-0.10</text>
<text x="14.33" y="267.85" font-size="9.9" font-weight="normal" fill="#303030" color="#303030" stroke-width="0.12" textLength="22.15" lengthAdjust="spacingAndGlyphs">-0.30</text>
<text x="14.33" y="309.25" font-size="9.9" font-weight="normal" fill="#303030" color="#303030" stroke-width="0.12" textLength="22.15" lengthAdjust="spacingAndGlyphs">-0.50</text>
<text x="53.55" y="11.35" font-size="11.0" font-weight="bold" fill="#000" color="#000" stroke-width="0.15" textLength="6.23" lengthAdjust="spacingAndGlyphs">a</text>
<text x="327.97" y="44.70" font-size="9.4" font-weight="normal" fill="#303030" color="#303030" stroke-width="0.12" textLength="91.77" lengthAdjust="spacingAndGlyphs">Demolition emissions</text>
<text x="330.14" y="78.80" font-size="9.6" font-weight="normal" fill="#222" color="#222" stroke-width="0.12" textLength="60.73" lengthAdjust="spacingAndGlyphs">Net emissions</text>
<text x="329.40" y="94.10" font-size="9.4" font-weight="normal" fill="#303030" color="#303030" stroke-width="0.12" textLength="91.30" lengthAdjust="spacingAndGlyphs">Calcination emissions</text>
<text x="327.63" y="159.30" font-size="9.5" font-weight="normal" fill="#303030" color="#303030" stroke-width="0.12" textLength="83.15" lengthAdjust="spacingAndGlyphs">Cement production</text>
<text x="328.63" y="168.40" font-size="9.5" font-weight="normal" fill="#303030" color="#303030" stroke-width="0.12" textLength="72.96" lengthAdjust="spacingAndGlyphs">energy emissions</text>
<text x="328.02" y="208.80" font-size="9.3" font-weight="normal" fill="#303030" color="#303030" stroke-width="0.12" textLength="70.20" lengthAdjust="spacingAndGlyphs">Use-phase uptake</text>
<text x="329.52" y="219.90" font-size="9.3" font-weight="normal" fill="#303030" color="#303030" stroke-width="0.12" textLength="105.83" lengthAdjust="spacingAndGlyphs">Demolition phase uptake</text>
<text x="328.22" y="230.60" font-size="9.3" font-weight="normal" fill="#303030" color="#303030" stroke-width="0.12" textLength="104.24" lengthAdjust="spacingAndGlyphs">Secondary phase uptake</text>
<text x="56.44" y="322.75" font-size="10.2" font-weight="normal" fill="#303030" color="#303030" stroke-width="0.12" textLength="38.23" lengthAdjust="spacingAndGlyphs">GWP100</text>
<text x="109.27" y="322.75" font-size="10.2" font-weight="normal" fill="#303030" color="#303030" stroke-width="0.12" textLength="49.42" lengthAdjust="spacingAndGlyphs">TAWP 20 yr</text>
<text x="168.07" y="322.75" font-size="10.2" font-weight="normal" fill="#303030" color="#303030" stroke-width="0.12" textLength="50.12" lengthAdjust="spacingAndGlyphs">TAWP 30 yr</text>
<text x="226.67" y="322.75" font-size="10.2" font-weight="normal" fill="#303030" color="#303030" stroke-width="0.12" textLength="49.42" lengthAdjust="spacingAndGlyphs">TAWP 50 yr</text>
<text x="282.47" y="322.75" font-size="10.2" font-weight="normal" fill="#303030" color="#303030" stroke-width="0.12" textLength="54.46" lengthAdjust="spacingAndGlyphs">TAWP 100 yr</text>
<text x="134.40" y="338.60" font-size="9.6" font-weight="normal" fill="#303030" color="#303030" stroke-width="0.12" textLength="117.27" lengthAdjust="spacingAndGlyphs">Warming potential method</text>
<text transform="translate(8.80,208.60) rotate(-90)" x="-0.64" y="0" font-size="9.4" font-weight="normal" fill="#303030" color="#303030" stroke-width="0.12" textLength="96.09" lengthAdjust="spacingAndGlyphs">kg CO2-eq/ kg cement</text>
<text x="458.30" y="15.06" font-size="9.9" font-weight="normal" fill="#303030" color="#303030" stroke-width="0.12" textLength="24.36" lengthAdjust="spacingAndGlyphs">8E-14</text>
<text x="458.19" y="44.19" font-size="9.9" font-weight="normal" fill="#303030" color="#303030" stroke-width="0.12" textLength="24.48" lengthAdjust="spacingAndGlyphs">7E-14</text>
<text x="458.19" y="73.32" font-size="9.9" font-weight="normal" fill="#303030" color="#303030" stroke-width="0.12" textLength="24.48" lengthAdjust="spacingAndGlyphs">6E-14</text>
<text x="458.30" y="102.45" font-size="9.9" font-weight="normal" fill="#303030" color="#303030" stroke-width="0.12" textLength="24.36" lengthAdjust="spacingAndGlyphs">5E-14</text>
<text x="458.42" y="131.58" font-size="9.9" font-weight="normal" fill="#303030" color="#303030" stroke-width="0.12" textLength="24.25" lengthAdjust="spacingAndGlyphs">4E-14</text>
<text x="458.30" y="160.71" font-size="9.9" font-weight="normal" fill="#303030" color="#303030" stroke-width="0.12" textLength="24.36" lengthAdjust="spacingAndGlyphs">3E-14</text>
<text x="458.19" y="189.84" font-size="9.9" font-weight="normal" fill="#303030" color="#303030" stroke-width="0.12" textLength="24.48" lengthAdjust="spacingAndGlyphs">2E-14</text>
<text x="457.95" y="218.97" font-size="9.9" font-weight="normal" fill="#303030" color="#303030" stroke-width="0.12" textLength="24.72" lengthAdjust="spacingAndGlyphs">1E-14</text>
<text x="476.79" y="248.10" font-size="9.9" font-weight="normal" fill="#303030" color="#303030" stroke-width="0.12" textLength="6.02" lengthAdjust="spacingAndGlyphs">0</text>
<text x="454.75" y="277.23" font-size="9.9" font-weight="normal" fill="#303030" color="#303030" stroke-width="0.12" textLength="27.95" lengthAdjust="spacingAndGlyphs">-1E-14</text>
<text x="454.75" y="306.36" font-size="9.9" font-weight="normal" fill="#303030" color="#303030" stroke-width="0.12" textLength="27.95" lengthAdjust="spacingAndGlyphs">-2E-14</text>
<text x="501.91" y="11.35" font-size="11.0" font-weight="bold" fill="#000" color="#000" stroke-width="0.2" textLength="7.96" lengthAdjust="spacingAndGlyphs">b</text>
<text x="491.17" y="320.60" font-size="9.9" font-weight="normal" fill="#303030" color="#303030" stroke-width="0.12" textLength="6.25" lengthAdjust="spacingAndGlyphs">0</text>
<text x="518.24" y="320.60" font-size="9.9" font-weight="normal" fill="#303030" color="#303030" stroke-width="0.12" textLength="11.12" lengthAdjust="spacingAndGlyphs">10</text>
<text x="548.09" y="320.60" font-size="9.9" font-weight="normal" fill="#303030" color="#303030" stroke-width="0.12" textLength="11.28" lengthAdjust="spacingAndGlyphs">20</text>
<text x="577.60" y="320.60" font-size="9.9" font-weight="normal" fill="#303030" color="#303030" stroke-width="0.12" textLength="11.79" lengthAdjust="spacingAndGlyphs">30</text>
<text x="607.75" y="320.60" font-size="9.9" font-weight="normal" fill="#303030" color="#303030" stroke-width="0.12" textLength="10.80" lengthAdjust="spacingAndGlyphs">40</text>
<text x="637.19" y="320.60" font-size="9.9" font-weight="normal" fill="#303030" color="#303030" stroke-width="0.12" textLength="12.00" lengthAdjust="spacingAndGlyphs">50</text>
<text x="666.77" y="320.60" font-size="9.9" font-weight="normal" fill="#303030" color="#303030" stroke-width="0.12" textLength="11.72" lengthAdjust="spacingAndGlyphs">60</text>
<text x="697.18" y="320.60" font-size="9.9" font-weight="normal" fill="#303030" color="#303030" stroke-width="0.12" textLength="11.50" lengthAdjust="spacingAndGlyphs">70</text>
<text x="726.61" y="320.60" font-size="9.9" font-weight="normal" fill="#303030" color="#303030" stroke-width="0.12" textLength="11.36" lengthAdjust="spacingAndGlyphs">80</text>
<text x="756.51" y="320.60" font-size="9.9" font-weight="normal" fill="#303030" color="#303030" stroke-width="0.12" textLength="11.47" lengthAdjust="spacingAndGlyphs">90</text>
<text x="783.98" y="320.60" font-size="9.9" font-weight="normal" fill="#303030" color="#303030" stroke-width="0.12" textLength="18.01" lengthAdjust="spacingAndGlyphs">100</text>
<text x="631.50" y="332.70" font-size="11.5" font-weight="normal" fill="#1a1a1a" color="#1a1a1a" stroke-width="0.12" textLength="23.03" lengthAdjust="spacingAndGlyphs">year</text>
<text x="716.53" y="143.00" font-size="9.2" font-weight="normal" fill="#E8EFF6" color="#E8EFF6" stroke-width="0.22" textLength="44.74" lengthAdjust="spacingAndGlyphs">Calcination</text>
<text x="716.54" y="154.40" font-size="9.2" font-weight="normal" fill="#E8EFF6" color="#E8EFF6" stroke-width="0.22" textLength="39.51" lengthAdjust="spacingAndGlyphs">emissions</text>
<text x="715.29" y="194.35" font-size="9.2" font-weight="normal" fill="#E8EFF6" color="#E8EFF6" stroke-width="0.22" textLength="68.36" lengthAdjust="spacingAndGlyphs">Energy emissions</text>
<text x="725.22" y="254.30" font-size="9.4" font-weight="normal" fill="#1a1a1a" color="#1a1a1a" stroke-width="0.12" textLength="58.65" lengthAdjust="spacingAndGlyphs">Carbon uptake</text>
<text transform="translate(449.00,241.30) rotate(-90)" x="-0.53" y="0" font-size="9.4" font-weight="normal" fill="#303030" color="#303030" stroke-width="0.12" textLength="169.43" lengthAdjust="spacingAndGlyphs">Cumulative Radiative forcing (W-yr/m²)</text>
<text transform="translate(737.30,86.50) rotate(-21)" x="-0.22" y="0" font-size="10.0" font-weight="normal" fill="#000" color="#000" stroke-width="0.3" textLength="38.75" lengthAdjust="spacingAndGlyphs">TAWP net</text>
<text transform="translate(743.35,113.90) rotate(-21)" x="-0.44" y="0" font-size="10.0" font-weight="normal" fill="#000" color="#000" stroke-width="0.3" textLength="35.35" lengthAdjust="spacingAndGlyphs">GWP net</text>
</svg>
</body></html>
